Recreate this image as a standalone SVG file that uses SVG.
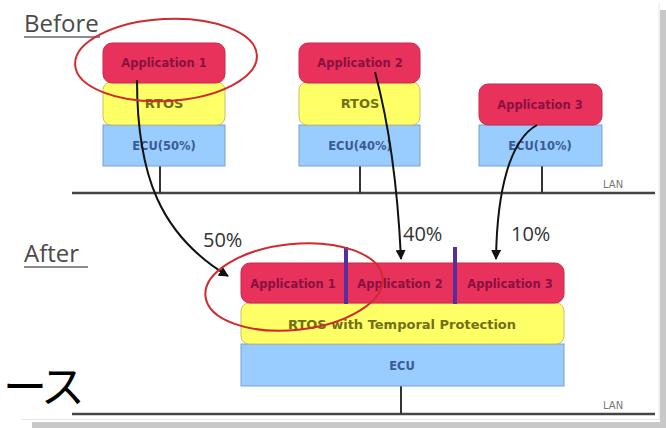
<svg xmlns="http://www.w3.org/2000/svg" width="666" height="428" viewBox="0 0 666 428">
<defs>
<style>
.app{fill:#e8325c;stroke:#c8284c;stroke-width:1}
.rtos{fill:#ffff66;stroke:#c8c070;stroke-width:1}
.ecu{fill:#99ccff;stroke:#7aa0c8;stroke-width:1}
.tApp{font-family:"DejaVu Sans",sans-serif;font-size:11.5px;font-weight:bold;fill:#8a1040;text-anchor:middle}
.tRtos{font-family:"DejaVu Sans",sans-serif;font-size:13px;font-weight:bold;fill:#707018;text-anchor:middle}
.tEcu{font-family:"DejaVu Sans",sans-serif;font-size:11.5px;font-weight:bold;fill:#3a5a98;text-anchor:middle}
.head{font-family:"Open Sans","Liberation Sans",sans-serif;font-size:24px;fill:#4a4a4a}
.pct{font-family:"Open Sans","Liberation Sans",sans-serif;font-size:20px;fill:#333}
.lan{font-family:"DejaVu Sans",sans-serif;font-size:10px;fill:#777}
.bus{stroke:#444;stroke-width:2.5;fill:none}
.tick{stroke:#333;stroke-width:2;fill:none}
.arrow{stroke:#111;stroke-width:2;fill:none;marker-end:url(#ah)}
.ring{fill:none;stroke:#d02a30;stroke-width:2}
.div{stroke:#55309a;stroke-width:4}
</style>
<marker id="ah" viewBox="0 0 10 10" refX="9" refY="5" markerWidth="5" markerHeight="5" orient="auto">
<path d="M0,0 L10,5 L0,10 z" fill="#111"/>
</marker>
</defs>
<rect width="666" height="428" fill="#ffffff"/>
<!-- frame edges -->
<rect x="660" y="10" width="6" height="418" fill="#c8c8c8"/>
<line x1="659" y1="3" x2="659" y2="420" stroke="#e4e4e4" stroke-width="1"/>
<rect x="32" y="422" width="634" height="6" fill="#c8c8c8"/>
<line x1="22" y1="419.5" x2="660" y2="419.5" stroke="#e4e4e4" stroke-width="1"/>

<text class="head" x="24" y="32">Before</text>
<line x1="24" y1="37" x2="100" y2="37" stroke="#666" stroke-width="1.5"/>
<text class="head" x="24" y="262">After</text>
<line x1="24" y1="267" x2="88" y2="267" stroke="#666" stroke-width="1.5"/>

<g id="lan-before">
<line class="bus" x1="72" y1="193" x2="655" y2="193"/>
<text class="lan" x="603" y="188">LAN</text>
</g>
<g id="lan-after">
<line class="bus" x1="72" y1="414" x2="655" y2="414"/>
<text class="lan" x="603" y="409">LAN</text>
</g>

<g id="stack1">
<line class="tick" x1="160" y1="166" x2="160" y2="193"/>
<rect class="ecu" x="103" y="125" width="122" height="41"/>
<text class="tEcu" x="164" y="150">ECU(50%)</text>
<rect class="rtos" x="103" y="82" width="122" height="43" rx="8"/>
<text class="tRtos" x="164" y="108">RTOS</text>
<rect class="app" x="103" y="43" width="122" height="40" rx="9"/>
<text class="tApp" x="164" y="67">Application 1</text>
</g>

<g id="stack2">
<line class="tick" x1="360" y1="166" x2="360" y2="193"/>
<rect class="ecu" x="299" y="125" width="121" height="41"/>
<text class="tEcu" x="360" y="150">ECU(40%)</text>
<rect class="rtos" x="299" y="82" width="121" height="43" rx="8"/>
<text class="tRtos" x="360" y="108">RTOS</text>
<rect class="app" x="299" y="43" width="121" height="40" rx="9"/>
<text class="tApp" x="360" y="67">Application 2</text>
</g>

<g id="stack3">
<line class="tick" x1="542" y1="166" x2="542" y2="193"/>
<rect class="ecu" x="479" y="125" width="123" height="41"/>
<text class="tEcu" x="540" y="150">ECU(10%)</text>
<rect class="app" x="479" y="84" width="123" height="41" rx="9"/>
<text class="tApp" x="540" y="109">Application 3</text>
</g>

<g id="stack-after">
<line class="tick" x1="401" y1="386" x2="401" y2="414"/>
<rect class="ecu" x="241" y="344" width="323" height="42"/>
<text class="tEcu" x="402" y="370">ECU</text>
<rect class="rtos" x="241" y="303" width="323" height="41" rx="8"/>
<text class="tRtos" x="402" y="329">RTOS with Temporal Protection</text>
<rect class="app" x="241" y="263" width="323" height="40" rx="9"/>
<text class="tApp" x="293" y="288">Application 1</text>
<text class="tApp" x="400" y="288">Application 2</text>
<text class="tApp" x="510" y="288">Application 3</text>
<line class="div" x1="346" y1="247" x2="346" y2="304"/>
<line class="div" x1="455" y1="247" x2="455" y2="304"/>
</g>

<g id="connectors">
<path class="arrow" d="M137,80 C137,175 160,235 228,276"/>
<path class="arrow" d="M375,72 Q396,150 401,259"/>
<path class="arrow" d="M537,125 C510,140 497,190 496,259"/>
</g>

<text class="pct" x="203" y="247">50%</text>
<text class="pct" x="403" y="241">40%</text>
<text class="pct" x="511" y="241">10%</text>

<g id="rings">
<ellipse class="ring" cx="166" cy="60" rx="91" ry="41" transform="rotate(-3 166 60)"/>
<ellipse class="ring" cx="294" cy="287" rx="89" ry="43" transform="rotate(-6 294 287)"/>
</g>

<text x="3" y="403" font-family="Noto Sans CJK JP, sans-serif" font-size="44" letter-spacing="-4" fill="#000">ース</text>
</svg>
